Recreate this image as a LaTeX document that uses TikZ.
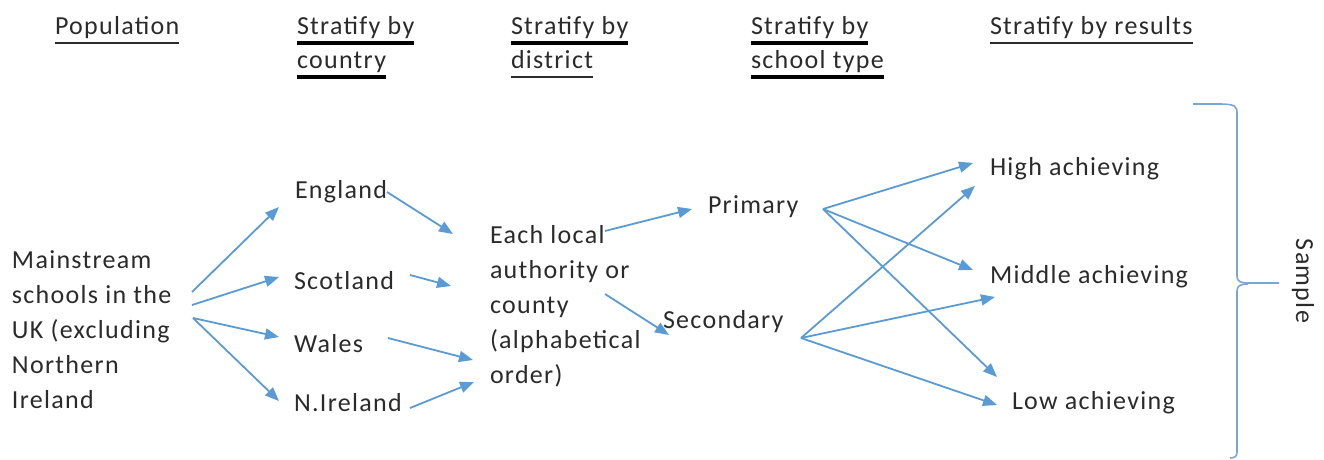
\documentclass[tikz,border=0pt]{standalone}
\usepackage{fontspec}
\setmainfont[LetterSpace=5]{Carlito}
\usetikzlibrary{arrows.meta}
\definecolor{arrblue}{HTML}{5B9BD5}
\definecolor{braceblue}{HTML}{7AA6D6}
\definecolor{txt}{HTML}{2B2B2B}
\begin{document}
\begin{tikzpicture}[x=1pt,y=-1pt,
  lbl/.style={inner sep=0pt,outer sep=0pt,text=txt,font=\fontsize{26}{35}\selectfont,align=left},
  hd/.style={inner sep=0pt,outer sep=0pt,text=txt,font=\fontsize{26}{34}\selectfont,anchor=base west},
  ulthin/.style={draw=txt,line width=1.4pt},
  ulthick/.style={draw=black,line width=3.4pt},
  arr/.style={draw=arrblue,line width=1.8pt,-{Triangle[length=14pt,width=11pt]}},
  brace/.style={draw=braceblue,line width=1.6pt}]
\useasboundingbox[fill=white] (0,0) rectangle (1324,459);

% headings
\node[hd] (hpop) at (55,34) {Population};
\node[hd] (hc1) at (297,34) {Stratify by};
\node[hd] (hc2) at (297,68) {country};
\node[hd] (hd1) at (511,34) {Stratify by};
\node[hd] (hd2) at (511,68) {district};
\node[hd] (hs1) at (751,34) {Stratify by};
\node[hd] (hs2) at (751,68) {school type};
\node[hd] (hr) at (990,34) {Stratify by results};
\draw[ulthin] ([yshift=-9pt]hpop.base west) -- ([yshift=-9pt]hpop.base east);
\draw[ulthick] ([yshift=-9pt]hc1.base west) -- ([yshift=-9pt]hc1.base east);
\draw[ulthick] ([yshift=-9pt]hc2.base west) -- ([yshift=-9pt]hc2.base east);
\draw[ulthick] ([yshift=-9pt]hd1.base west) -- ([yshift=-9pt]hd1.base east);
\draw[ulthin] ([yshift=-9pt]hd2.base west) -- ([yshift=-9pt]hd2.base east);
\draw[ulthick] ([yshift=-9pt]hs1.base west) -- ([yshift=-9pt]hs1.base east);
\draw[ulthick] ([yshift=-9pt]hs2.base west) -- ([yshift=-9pt]hs2.base east);
\draw[ulthin] ([yshift=-9pt]hr.base west) -- ([yshift=-9pt]hr.base east);

% nodes
\node[lbl,anchor=west] (pop) at (12,330) {Mainstream\\schools in the\\UK (excluding\\Northern\\Ireland};
\node[lbl,anchor=west] (eng) at (295,192) {England};
\node[lbl,anchor=west] (sco) at (294,281) {Scotland};
\node[lbl,anchor=west] (wal) at (294,344) {Wales};
\node[lbl,anchor=west] (nir) at (294,403) {N.Ireland};
\node[lbl,anchor=west] (la) at (490,306) {Each local\\authority or\\county\\(alphabetical\\order)};
\node[lbl,anchor=west] (pri) at (708,207) {Primary};
\node[lbl,anchor=west] (sec) at (663,322) {Secondary};
\node[lbl,anchor=west] (hi) at (990,169) {High achieving};
\node[lbl,anchor=west] (mid) at (990,277) {Middle achieving};
\node[lbl,anchor=west] (low) at (1012,403) {Low achieving};
\node[lbl,rotate=-90] (samp) at (1303,281) {Sample};

% connector end points
\coordinate (p1) at (192,292);
\coordinate (p2) at (192,305);
\coordinate (p3) at (193,318);
\coordinate (engT) at (279,207);
\coordinate (scoT) at (279,277);
\coordinate (walT) at (279,337);
\coordinate (nirT) at (279,401);
\coordinate (engS) at (387,192);
\coordinate (scoS) at (410,275);
\coordinate (walS) at (388,338);
\coordinate (nirS) at (410,408);
\coordinate (laT1) at (453,234);
\coordinate (laT2) at (451,286);
\coordinate (laT3) at (473,360);
\coordinate (laT4) at (474,382);
\coordinate (laS1) at (605,231);
\coordinate (laS2) at (605,294);
\coordinate (priT) at (692,209);
\coordinate (secT) at (669,335);
\coordinate (priS) at (823,209);
\coordinate (secS) at (801,338);
\coordinate (hiT1) at (973,163);
\coordinate (hiT2) at (975,186);
\coordinate (midT1) at (973,270);
\coordinate (midT2) at (995,297);
\coordinate (lowT1) at (997,377);
\coordinate (lowT2) at (997,405);

\draw[arr] (p1) -- (engT);
\draw[arr] (p2) -- (scoT);
\draw[arr] (p3) -- (walT);
\draw[arr] (p3) -- (nirT);
\draw[arr] (engS) -- (laT1);
\draw[arr] (scoS) -- (laT2);
\draw[arr] (walS) -- (laT3);
\draw[arr] (nirS) -- (laT4);
\draw[arr] (laS1) -- (priT);
\draw[arr] (laS2) -- (secT);
\draw[arr] (priS) -- (hiT1);
\draw[arr] (priS) -- (midT1);
\draw[arr] (priS) -- (lowT1);
\draw[arr] (secS) -- (hiT2);
\draw[arr] (secS) -- (midT2);
\draw[arr] (secS) -- (lowT2);

% brace
\coordinate (bTop) at (1193,104);
\coordinate (bTip) at (1279,283);
\coordinate (bBot) at (1230,458);
\draw[brace] (bTop) -- (1218,104) .. controls (1236,104) and (1237,106) .. (1237,114)
  -- (1237,276) .. controls (1237,281) and (1240,283) .. (1248,283) -- (bTip);
\draw[brace] (1248,284) .. controls (1240,284) and (1237,286) .. (1237,291)
  -- (1237,452) .. controls (1237,456) and (1235,458) .. (bBot);
\end{tikzpicture}
\end{document}
